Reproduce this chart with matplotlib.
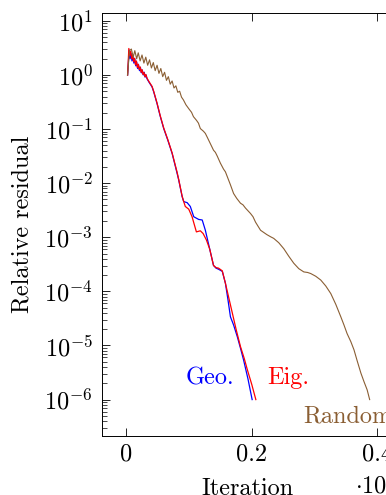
import numpy as np
import matplotlib
matplotlib.use("Agg")
import matplotlib.pyplot as plt
from matplotlib.ticker import FixedLocator, FuncFormatter, LogLocator, NullFormatter

# ---- data (iterations in units of 1e4, residual as log10) ----
geo_iter = [0.002, 0.0045, 0.006, 0.0075, 0.009, 0.0105, 0.012, 0.0135, 0.015, 0.0165,
            0.018, 0.0195, 0.021, 0.0225, 0.024, 0.0255, 0.027, 0.0285, 0.030, 0.0315,
            0.033, 0.036, 0.041, 0.0436, 0.049, 0.054, 0.0596, 0.066, 0.073, 0.081,
            0.0835, 0.089, 0.0915, 0.097, 0.102, 0.1075, 0.1154, 0.121, 0.126, 0.133,
            0.139, 0.143, 0.147, 0.153, 0.158, 0.162, 0.166, 0.171, 0.177, 0.182,
            0.187, 0.194, 0.2006]
geo_log = [0.0, 0.46, 0.30, 0.40, 0.26, 0.34, 0.22, 0.30, 0.17, 0.24,
           0.12, 0.19, 0.08, 0.14, 0.04, 0.09, 0.00, 0.05, -0.04, 0.00,
           -0.07, -0.13, -0.22, -0.31, -0.53, -0.76, -0.99, -1.20, -1.45, -1.82,
           -1.94, -2.25, -2.34, -2.36, -2.43, -2.62, -2.67, -2.68, -2.87, -3.22,
           -3.52, -3.57, -3.59, -3.63, -3.85, -4.15, -4.47, -4.62, -4.84, -5.05,
           -5.27, -5.62, -6.0]

eig_iter = [0.002, 0.004, 0.0055, 0.007, 0.0085, 0.010, 0.0115, 0.013, 0.0145, 0.016,
            0.0175, 0.019, 0.0205, 0.022, 0.0235, 0.025, 0.0265, 0.028, 0.0295, 0.031,
            0.033, 0.036, 0.041, 0.0436, 0.049, 0.054, 0.0596, 0.066, 0.073, 0.081,
            0.0835, 0.089, 0.0915, 0.094, 0.0995, 0.1048, 0.1117, 0.118, 0.1224, 0.1277,
            0.133, 0.139, 0.143, 0.147, 0.153, 0.158, 0.163, 0.169, 0.175, 0.182,
            0.188, 0.193, 0.200, 0.2065]
eig_log = [0.0, 0.49, 0.36, 0.44, 0.30, 0.37, 0.25, 0.31, 0.19, 0.26,
           0.14, 0.20, 0.10, 0.15, 0.05, 0.10, 0.01, 0.05, -0.03, 0.01,
           -0.06, -0.12, -0.21, -0.30, -0.52, -0.75, -0.98, -1.19, -1.44, -1.80,
           -1.93, -2.24, -2.34, -2.43, -2.48, -2.62, -2.90, -2.88, -2.93, -3.05,
           -3.22, -3.52, -3.56, -3.57, -3.62, -3.85, -4.10, -4.40, -4.70, -5.02,
           -5.24, -5.45, -5.72, -6.0]

rnd_iter = [0.002, 0.005, 0.008, 0.011, 0.0135, 0.0165, 0.019, 0.022, 0.025, 0.028,
            0.031, 0.034, 0.037, 0.040, 0.043, 0.046, 0.049, 0.052, 0.055, 0.058,
            0.061, 0.064, 0.067, 0.070, 0.073, 0.076, 0.079, 0.082, 0.085, 0.088,
            0.091, 0.095, 0.100, 0.104, 0.107, 0.112, 0.115, 0.118, 0.123, 0.126,
            0.129, 0.134, 0.139, 0.142, 0.145, 0.150, 0.155, 0.158, 0.161, 0.166,
            0.171, 0.176, 0.182, 0.186, 0.190, 0.198, 0.202, 0.206, 0.214, 0.219,
            0.224, 0.230, 0.235, 0.243, 0.251, 0.259, 0.267, 0.275, 0.283, 0.289,
            0.294, 0.302, 0.310, 0.318, 0.326, 0.334, 0.342, 0.347, 0.352, 0.358,
            0.363, 0.368, 0.374, 0.379, 0.384, 0.388]
rnd_log = [0.0, 0.45, 0.48, 0.33, 0.45, 0.30, 0.41, 0.26, 0.37, 0.22,
           0.33, 0.18, 0.28, 0.13, 0.23, 0.08, 0.18, 0.03, 0.12, -0.03,
           0.05, -0.10, -0.03, -0.17, -0.11, -0.24, -0.20, -0.32, -0.30, -0.41,
           -0.46, -0.55, -0.63, -0.69, -0.77, -0.84, -0.89, -0.99, -1.04, -1.08,
           -1.15, -1.27, -1.39, -1.43, -1.50, -1.63, -1.74, -1.79, -1.88, -2.03,
           -2.19, -2.28, -2.37, -2.40, -2.46, -2.56, -2.62, -2.72, -2.87, -2.91,
           -2.95, -2.99, -3.02, -3.10, -3.21, -3.35, -3.48, -3.58, -3.64, -3.65,
           -3.67, -3.72, -3.79, -3.90, -4.04, -4.24, -4.47, -4.62, -4.78, -4.93,
           -5.08, -5.28, -5.51, -5.67, -5.82, -6.0]

xticks = [0, 0.2, 0.4]
xticklabels = ["0", "0.2", "0.4"]
yexps = [1, 0, -1, -2, -3, -4, -5, -6]

BROWN = "#8a5e33"
FS = 17.5

plt.rcParams.update({
    "font.family": "serif",
    "font.serif": ["cmr10"],
    "mathtext.fontset": "cm",
    "axes.unicode_minus": False,
    "axes.formatter.use_mathtext": True,
})

W, H = 386, 495
fig = plt.figure(figsize=(W / 100, H / 100), dpi=100)
L, R, T, B = 102, 394, 13, 436
ax = fig.add_axes([L / W, 1 - B / H, (R - L) / W, (B - T) / H])

ax.plot(geo_iter, 10.0 ** np.array(geo_log), color="blue", lw=0.9)
ax.plot(eig_iter, 10.0 ** np.array(eig_log), color="red", lw=0.9)
ax.plot(rnd_iter, 10.0 ** np.array(rnd_log), color=BROWN, lw=0.8)

ax.set_yscale("log")
ax.set_xlim(-0.0388, 0.4268)
ax.set_ylim(10 ** -6.673, 10 ** 1.146)

ax.xaxis.set_major_locator(FixedLocator(xticks))
ax.set_xticklabels(xticklabels)
ax.yaxis.set_major_locator(FixedLocator([10.0 ** e for e in yexps]))
ax.yaxis.set_major_formatter(FuncFormatter(lambda v, p: r"$10^{%d}$" % round(np.log10(v))))
ax.yaxis.set_minor_locator(LogLocator(base=10, subs=np.arange(2, 10), numticks=30))
ax.yaxis.set_minor_formatter(NullFormatter())

ax.tick_params(which="both", direction="in", top=True, right=True, labelsize=FS, colors="black")
ax.tick_params(which="major", length=6, width=0.6)
ax.tick_params(which="minor", length=3.8, width=0.5)
ax.tick_params(axis="y", pad=6.5)
ax.tick_params(axis="x", pad=5.5)
for s in ax.spines.values():
    s.set_linewidth(0.7)

ax.set_ylabel("Relative residual", fontsize=FS)
ax.yaxis.set_label_coords(-0.235, 0.5)
ax.set_xlabel("Iteration", fontsize=FS)
ax.xaxis.set_label_coords(0.5, -0.100)

ax.text(0.134, 10 ** -5.6, "Geo.", color="blue", fontsize=FS, ha="center", va="center")
ax.text(0.258, 10 ** -5.6, "Eig.", color="red", fontsize=FS, ha="center", va="center")
ax.text(0.2815, 10 ** -6.32, "Random", color=BROWN, fontsize=FS, ha="left", va="center")

fig.text(355 / W, 1 - 486 / H, r"$\cdot 10^{4}$", fontsize=FS, ha="left", va="center")

fig.savefig("out.png", dpi=100)
